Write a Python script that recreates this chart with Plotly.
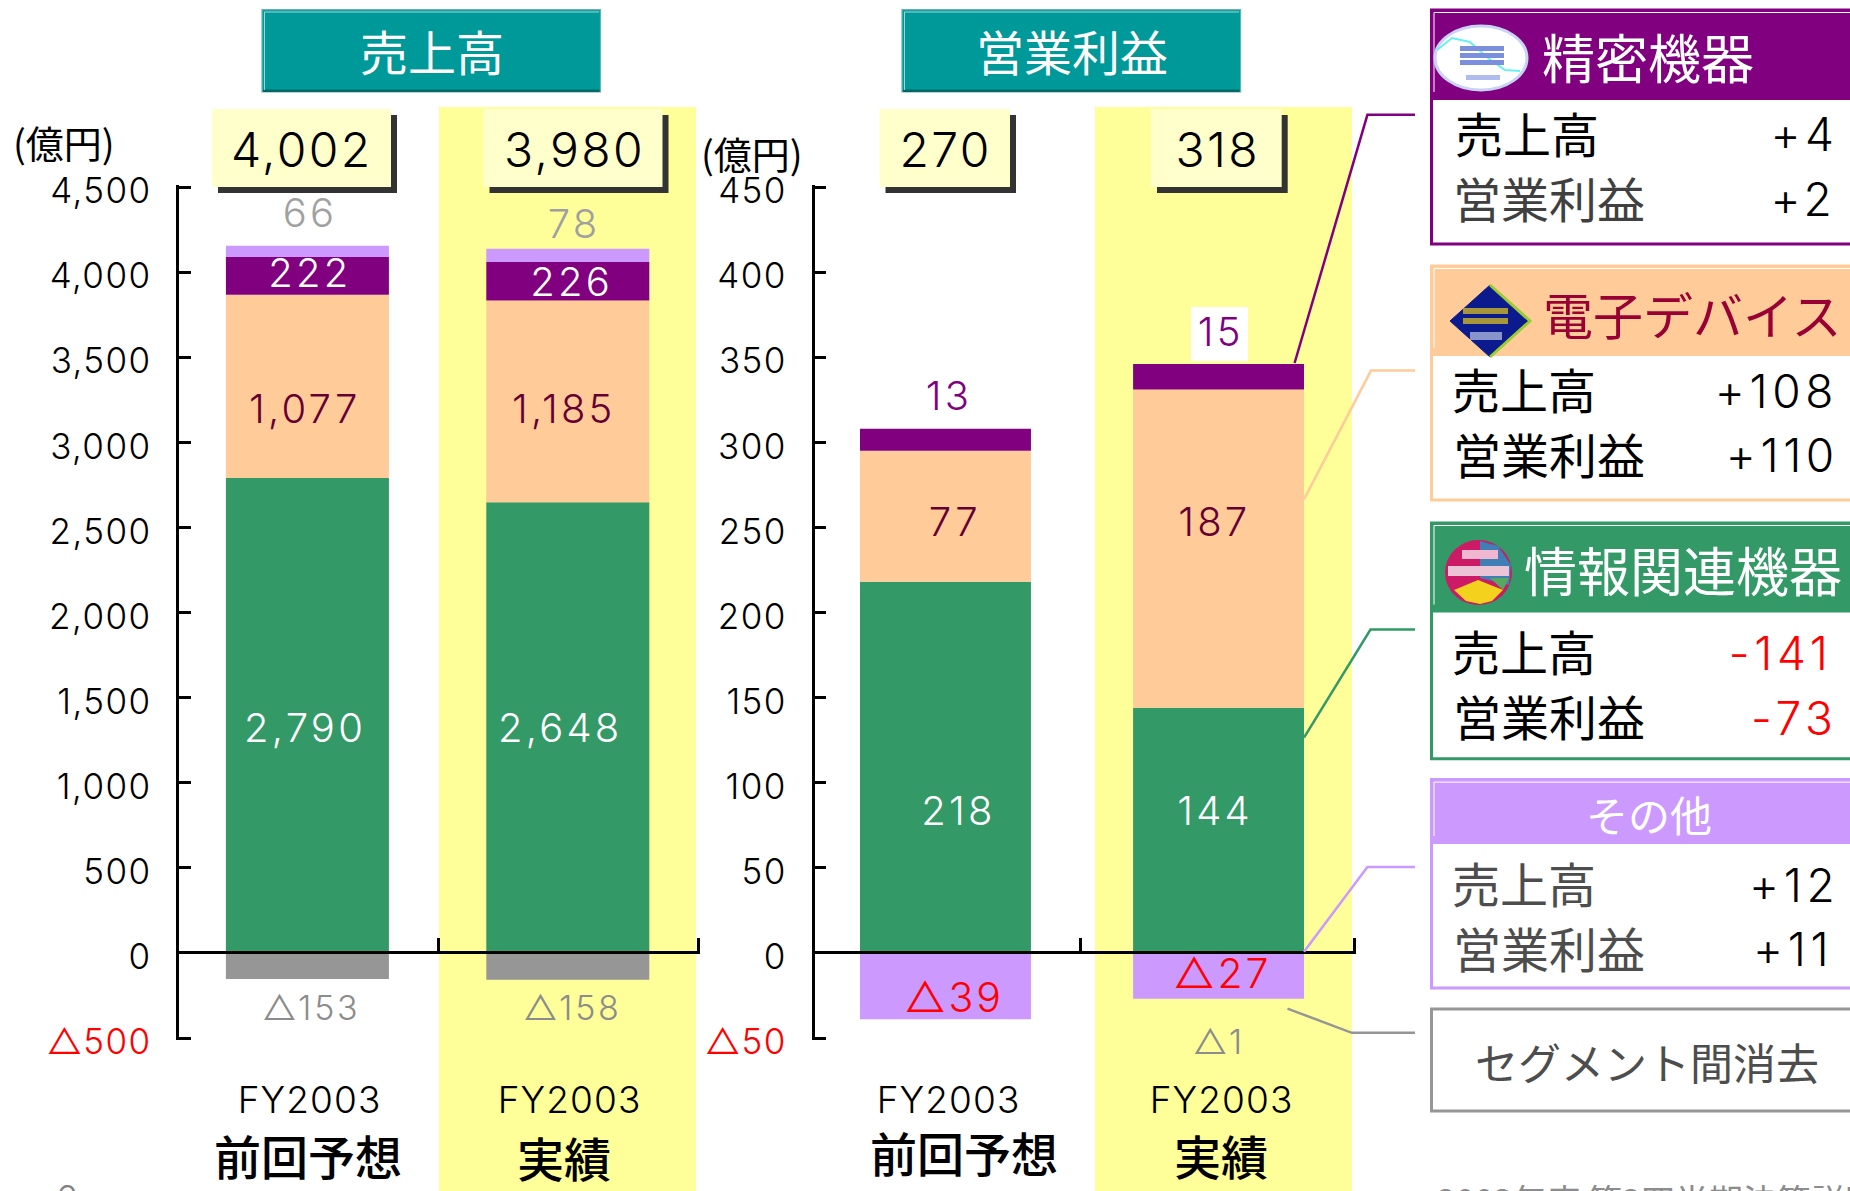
import plotly.graph_objects as go

# ---------- data ----------
categories = ["前回予想", "実績"]
fiscal_year = "FY2003"
panel_titles = ["売上高", "営業利益"]
unit_label = "(億円)"

sales_info = [2790, 2648]
sales_device = [1077, 1185]
sales_precision = [222, 226]
sales_other = [66, 78]
sales_elim = [-153, -158]
sales_total = [4002, 3980]

profit_info = [218, 144]
profit_device = [77, 187]
profit_precision = [13, 15]
profit_other = [-39, -27]
profit_elim_label = -1
profit_total = [270, 318]

sales_ticks = [-500, 0, 500, 1000, 1500, 2000, 2500, 3000, 3500, 4000, 4500]
profit_ticks = [-50, 0, 50, 100, 150, 200, 250, 300, 350, 400, 450]

seg_names = ["精密機器", "電子デバイス", "情報関連機器", "その他"]
seg_sales_delta = ["+4", "+108", "-141", "+12"]
seg_profit_delta = ["+2", "+110", "-73", "+11"]
row_labels = ["売上高", "営業利益"]
elim_name = "セグメント間消去"
footer_text = "2003年度 第3四半期決算説明会"
page_no = "6"

# ---------- styles ----------
W, H = 1850, 1191
GREEN, ORANGE, PURPLE, LAV, GREY = "#339966", "#FFCC99", "#800080", "#CC99FF", "#969696"
BAND, BOX, TEAL, WINE = "#FFFF99", "#FFFFCC", "#009999", "#660033"
NUM = "Inter"
NUMW = 300
JP = "Noto Sans CJK JP"
TOP_PX, BOT_PX = 187.0, 1038.0
ZERO_PX = 952.4
PAD_PX = 1.6
ZERO_POS = 1 - ZERO_PX / H
# extra tracking of the numeric labels, by font size (em)
TRACK = {35: 0.04, 40: 0.08, 48: 0.05, 37: 0.03, 34: 0.08, 41: 0.07, 46: 0.10}


def fx(p):
    return p / W


def fy(p):
    return 1 - p / H


def fmt(v):
    return f"{v:,}" if v >= 0 else f"△{-v:,}"


fig = go.Figure()
for xa, ya, series in [
    ("x", "y", [(sales_info, GREEN), (sales_device, ORANGE), (sales_precision, PURPLE), (sales_other, LAV), (sales_elim, GREY)]),
    ("x2", "y2", [(profit_info, GREEN), (profit_device, ORANGE), (profit_precision, PURPLE), (profit_other, LAV)]),
]:
    for vals, col in series:
        fig.add_trace(go.Bar(x=[0, 1], y=vals, xaxis=xa, yaxis=ya, width=0.626,
                             marker=dict(color=col, line=dict(width=0)), showlegend=False))

ann, shp = [], []


def txt(x, y, t, size, color="#000000", fam=NUM, anchor="center", weight=None):
    f = dict(size=size, color=color, family=fam)
    if fam == NUM:
        weight = weight or NUMW
        s = TRACK.get(size, 0) * size
        if anchor == "center":
            x += s / 2
        elif anchor == "right":
            x -= (len(t) / 2 - 1) * s
    else:
        y -= 2.4
    if weight:
        f["weight"] = weight
    ann.append(dict(x=fx(x), y=fy(y), xref="paper", yref="paper", text=t, showarrow=False,
                    xanchor=anchor, yanchor="middle", font=f, borderpad=0, borderwidth=0))


def rect(x0, y0, x1, y1, fill=None, line=None, lw=0, layer="above", kind="rect"):
    shp.append(dict(type=kind, xref="paper", yref="paper", x0=fx(x0), x1=fx(x1), y0=fy(y0), y1=fy(y1),
                    fillcolor=fill or "rgba(0,0,0,0)", line=dict(color=line or "rgba(0,0,0,0)", width=lw), layer=layer))


def poly(pts, color, lw=2.5, fill=None, closed=False):
    d = "M" + " L".join(f"{fx(a):.5f},{fy(b):.5f}" for a, b in pts) + (" Z" if closed else "")
    shp.append(dict(type="path", xref="paper", yref="paper", path=d,
                    fillcolor=fill or "rgba(0,0,0,0)", line=dict(color=color, width=lw), layer="above"))


# yellow highlight bands
rect(439, 107, 696, H + 5, BAND, layer="below")
rect(1095, 107, 1352, H + 5, BAND, layer="below")

# teal title plates
for x0, x1, tx, title in [(262, 600.5, 431.6, panel_titles[0]), (902, 1240.6, 1072, panel_titles[1])]:
    rect(x0, 9.6, x1, 92, TEAL, "#66B2B2", 1.2)
    rect(x0 + 1, 89.5, x1 - 1, 92, "#006666")
    poly([(x0 + 2.5, 90), (x0 + 2.5, 12), (x1 - 1.5, 12)], "#9FD6D6", 1)
    txt(tx, 52, title, 48, "#FFFFFF", JP)

# totals
for bx0, bx1, tx, v in [(212, 391, 301, sales_total[0]), (483.5, 662.5, 573.5, sales_total[1]),
                        (879.5, 1010, 944, profit_total[0]), (1151, 1281.7, 1216, profit_total[1])]:
    rect(bx0 + 6, 115, bx1 + 6, 193, "#333333")
    rect(bx0, 109, bx1, 187, BOX)
    txt(tx, 149, fmt(v), 48)

# unit labels
txt(63.8, 144, unit_label, 38, fam=JP)
txt(752, 154.5, unit_label, 38, fam=JP)

# value labels: (x, y, colour, size)
sales_label_pos = [
    (sales_other, [(308.3, 212.4), (572.7, 223)], "#A0A0A0", 40),
    (sales_precision, [(308, 273), (570, 281.3)], "#FFFFFF", 40),
    (sales_device, [(303.7, 408.7), (562.5, 408.7)], WINE, 40),
    (sales_info, [(303.5, 727.4), (559, 727.4)], "#FFFFFF", 40),
    (sales_elim, [(310.6, 1007), (570.7, 1007)], "#8C8C8C", 34),
]
profit_label_pos = [
    (profit_precision, [(947.8, 396), (1218.7, 332)], PURPLE, 40),
    (profit_device, [(953.3, 521.6), (1212.7, 521.6)], WINE, 40),
    (profit_info, [(956.7, 810), (1213, 810)], "#FFFFFF", 40),
    (profit_other, [(952.7, 996.5), (1221.4, 973)], "#FF0000", 41),
]
rect(1191, 307, 1248, 361, "#FFFFFF")
for vals, pos, col, size in sales_label_pos + profit_label_pos:
    for v, (x, y) in zip(vals, pos):
        txt(x, y, fmt(v), size, col)
txt(1218, 1041, fmt(profit_elim_label), 34, "#8C8C8C")

# category labels
for x, y, yr_x, yr_c in [(307.6, 1157, 308.8, 0), (564.3, 1159, 569.3, 1), (964, 1154, 948.4, 0), (1221, 1157, 1220.5, 1)]:
    txt(yr_x, 1099.4, fiscal_year, 37)
    txt(x, y, categories[yr_c], 47, fam=JP, weight=500)

# connectors
poly([(1294.6, 363), (1367.4, 114.8), (1415, 114.8)], PURPLE)
poly([(1304, 499.4), (1371, 370.6), (1415, 370.6)], ORANGE)
poly([(1304, 737.6), (1370.5, 629.5), (1415, 629.5)], GREEN)
poly([(1304, 951.7), (1367.4, 867), (1415, 867)], LAV)
poly([(1287.5, 1008.6), (1351.8, 1032.8), (1415, 1032.8)], GREY)

# segment panels
L, R = 1431.5, W + 10
panels = [
    (10, 100, 244, PURPLE, 0),
    (266, 356, 500, ORANGE, 1),
    (523, 612.6, 758.7, GREEN, 2),
    (779.6, 844, 988, LAV, 3),
]
for top, hd, bot, col, i in panels:
    rect(L, top, R, bot, "#FFFFFF", col, 3)
    rect(L, top, R, hd, col)
    poly([(L + 2.5, hd - 8), (L + 2.5, top + 2.5), (R, top + 2.5)], "#FFFFFF", 1)

txt(1647.5, 58, seg_names[0], 53, "#FFFFFF", JP)
txt(1692, 315, seg_names[1], 50, "#990033", JP)
txt(1682.5, 571, seg_names[2], 53, "#FFFFFF", JP)
txt(1649, 815.6, seg_names[3], 42, "#FFFFFF", JP)

rows = [
    (1526.7, 134, 1548.8, 199, 1834, 1832, "#000000", "#404040", "#000000", "#000000"),
    (1524.3, 390.7, 1548.8, 455, 1834, 1835, "#000000", "#000000", "#000000", "#000000"),
    (1524.3, 652.6, 1548.8, 717.8, 1828, 1833, "#000000", "#000000", "#FF0000", "#FF0000"),
    (1524.3, 884.8, 1548.8, 949, 1834, 1828, "#4D4D4D", "#4D4D4D", "#000000", "#000000"),
]
for i, (sx, sy, px, py, sr, pr, c1, c2, c3, c4) in enumerate(rows):
    txt(sx, sy, row_labels[0], 48, c1, JP)
    txt(px, py, row_labels[1], 48, c2, JP)
    txt(sr, sy, seg_sales_delta[i], 46, c3, NUM, "right")
    txt(pr, py, seg_profit_delta[i], 46, c4, NUM, "right")

rect(L, 1009, R, 1111, "#FFFFFF", GREY, 3)
txt(1647, 1063, elim_name, 43, "#4D4D4D", JP)

# emblems
rect(1435, 26, 1527, 90, "#FFFFFF", "#C9D3F5", 3, kind="circle")
poly([(1437, 50), (1452, 38), (1470, 42), (1488, 58), (1505, 70), (1520, 71)], "#66F2F2", 2)
for y0 in (46, 53, 60):
    rect(1460, y0, 1504, y0 + 5, "#7C8FDC")
rect(1466, 75, 1500, 80, "#AEBDEE")

poly([(1490, 285), (1530, 321), (1490, 357), (1450, 321)], "#0B1A8C", 1, "#0B1A8C", True)
poly([(1490, 285), (1530, 321), (1490, 357)], "#99CC33", 3)
rect(1463, 308, 1508, 314, "#A8963A")
rect(1463, 318, 1508, 324, "#A8963A")
rect(1470, 332, 1502, 340, "#8A94CC")

rect(1445, 540, 1512, 605, "#CC1A66", None, 0, kind="circle")
poly([(1480, 541), (1498, 546), (1511, 565), (1509, 585), (1480, 578)], "#3F7FB5", 0, "#3F7FB5", True)
poly([(1454, 590), (1478, 580), (1503, 590), (1492, 601), (1480, 604), (1466, 601)], "#F2D21C", 0, "#F2D21C", True)
poly([(1503, 590), (1509, 578), (1490, 578)], "#55A860", 0, "#55A860", True)
rect(1448, 566, 1509, 576, "#EBC4D6")
rect(1462, 550, 1498, 559, "#F0B8D0")

# clipped page furniture
txt(1437, 1202, footer_text, 34, "#8C8C8C", JP, "left")
txt(67, 1198, page_no, 36, "#808080", NUM)


def tick_text(vals):
    out = []
    for v in vals:
        s = fmt(v)
        out.append(f'<span style="color:#FF0000">{s}</span>' if v < 0 else s)
    return out


common_y = dict(tickmode="array", ticks="inside", ticklen=12, tickwidth=2.5, tickcolor="#000000",
                showline=True, linecolor="#000000", linewidth=2.5, showgrid=False, zeroline=False,
                domain=[fy(BOT_PX + PAD_PX), fy(TOP_PX - PAD_PX)],
                tickfont=dict(family=NUM, size=35, color="#000000", weight=NUMW),
                ticklabelstandoff=18, ticklabelshift=4)
common_x = dict(ticks="inside", ticklen=13, tickwidth=2.5, tickcolor="#000000", showticklabels=False,
                showline=True, linecolor="#000000", linewidth=3, showgrid=False, zeroline=False,
                anchor="free", position=ZERO_POS, tickmode="array", layer="above traces")

unit_l = 500 / 85.111
unit_r = 50 / 85.111
fig.update_layout(
    width=W, height=H, margin=dict(l=0, r=0, t=0, b=0, autoexpand=False), autosize=False,
    paper_bgcolor="#FFFFFF", plot_bgcolor="rgba(0,0,0,0)", barmode="relative", showlegend=False,
    xaxis=dict(domain=[fx(177.2), fx(699.6)], range=[-0.5, 1.5 + PAD_PX / 260.4], tickvals=[-0.5, 0.505, 1.5], **common_x),
    yaxis=dict(range=[-500 - PAD_PX * unit_l, 4500 + PAD_PX * unit_l], tickvals=sales_ticks, ticktext=tick_text(sales_ticks),
               anchor="free", position=fx(177.2), **common_y),
    xaxis2=dict(domain=[fx(812.5), fx(1355.6)], range=[-0.487, 1.496 + PAD_PX / 273], tickvals=[-0.487, 0.495, 1.496], **common_x),
    yaxis2=dict(range=[-50 - PAD_PX * unit_r, 450 + PAD_PX * unit_r], tickvals=profit_ticks, ticktext=tick_text(profit_ticks),
                anchor="free", position=fx(812.5), **common_y),
    annotations=ann, shapes=shp,
)

css = "".join(f'svg text[style*="{NUM}"][style*="font-size: {k}px"]{{letter-spacing:{v}em}}' for k, v in TRACK.items())
post = ("document.body.style.margin='0';document.body.style.overflow='hidden';"
        f"var st=document.createElement('style');st.textContent='{css}';document.head.appendChild(st);")
fig.write_html("out.html", post_script=post, config={"displayModeBar": False})
